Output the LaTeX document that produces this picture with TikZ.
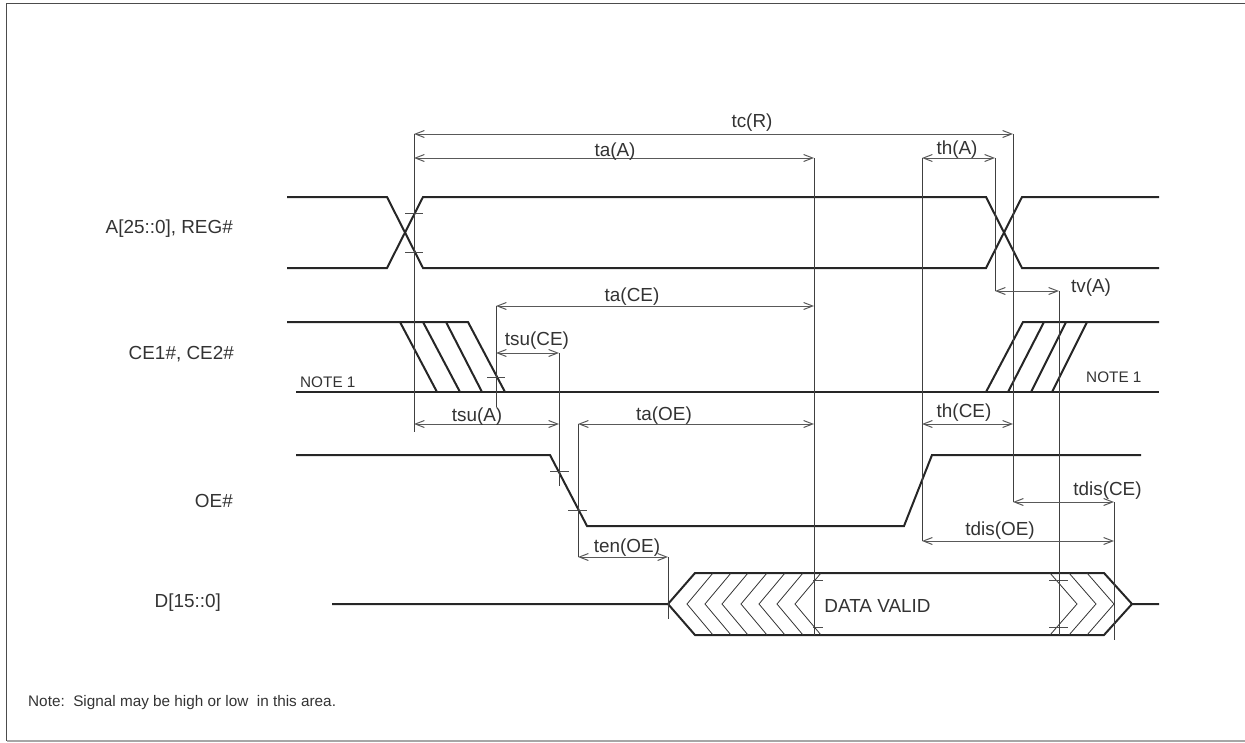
\documentclass[tikz,border=0pt]{standalone}
\usepackage{fontspec}
\setmainfont{Liberation Sans}
\usetikzlibrary{arrows.meta}

\begin{document}
\begin{tikzpicture}[
  x=1pt, y=-1pt,
  font=\fontsize{18.9}{20}\selectfont,
  txt/.style={text=black!80, inner sep=0pt},
  small/.style={txt, font=\fontsize{15.3}{18}\selectfont},
  sig/.style={line width=2pt, black!85, line join=miter},
  guide/.style={line width=1pt, black!75},
  tickm/.style={line width=0.8pt, black!70},
  hatch/.style={line width=0.8pt, black!80},
  dim/.style={line width=1pt, black!65, {Straight Barb[length=9pt,width=7pt]}-{Straight Barb[length=9pt,width=7pt]}},
]
\useasboundingbox (0,0) rectangle (1245,742);
\draw[line width=1.2pt, black!70] (1245,3.5) -- (6.5,3.5) -- (6.5,741);
\draw[line width=1.2pt, black!35] (6.5,741) -- (1245,741);

% signal names
\node[txt, anchor=east] (nameA) at (233,229) {A[25::0], REG\#};
\node[txt, anchor=east] (nameCE) at (234,354) {CE1\#, CE2\#};
\node[txt, anchor=east] (nameOE) at (233,501) {OE\#};
\node[txt, anchor=east] (nameD) at (221,603) {D[15::0]};
\node[small, anchor=west] (noteA) at (300,382) {NOTE 1};
\node[small, anchor=west] (noteB) at (1086,377) {NOTE 1};
\node[small, anchor=west] (remark) at (28,703) {Note:\ \ Signal may be high or low\ \ in this area.};
\node[txt] (valid) at (877.5,606) {DATA VALID};

% A
\draw[sig] (287,197) -- (387,197) -- (423,268) -- (986,268) -- (1022,197) -- (1159,197);
\draw[sig] (287,268) -- (387,268) -- (423,197) -- (986,197) -- (1022,268) -- (1159,268);
% CE
\draw[sig] (287,322) -- (468,322) -- (505,392);
\draw[sig] (296,392) -- (1159,392);
\draw[sig] (400,322) -- (437,392);
\draw[sig] (423,322) -- (460,392);
\draw[sig] (446,322) -- (482,392);
\draw[sig] (986,392) -- (1023,322) -- (1159,322);
\draw[sig] (1008,392) -- (1044,322);
\draw[sig] (1031,392) -- (1066,322);
\draw[sig] (1052,392) -- (1087,322);
% OE
\draw[sig] (296,455) -- (550,455) -- (587,526) -- (904,526) -- (932,455) -- (1141,455);
% D
\draw[sig] (332,604) -- (668,604) -- (695,573) -- (1104,573) -- (1132,604) -- (1159,604);
\draw[sig] (668,604) -- (695,635) -- (1104,635) -- (1132,604);
\foreach \xx in {687,705,722,741,759,777,795}
  \draw[hatch] (\xx+26,573) -- (\xx,604) -- (\xx+26,635);
\foreach \xx in {1050,1069,1087}
  \draw[hatch] (\xx,573) -- (\xx+27,604) -- (\xx,635);

% measure ticks
\draw[tickm] (405,213) -- (423,213);
\draw[tickm] (405,252) -- (423,252);
\draw[tickm] (487,377) -- (505,377);
\draw[tickm] (550,471) -- (569,471);
\draw[tickm] (568,510) -- (587,510);
\draw[tickm] (813,580) -- (823,580);
\draw[tickm] (813,627) -- (823,627);
\draw[tickm] (1049,580) -- (1068,580);
\draw[tickm] (1049,627) -- (1068,627);

% ends of the measures
\coordinate (tcL) at (414,134);   \coordinate (tcR) at (1013,134);
\coordinate (taAL) at (414,158);  \coordinate (taAR) at (814,158);
\coordinate (thAL) at (922,158);  \coordinate (thAR) at (995,158);
\coordinate (tvL) at (995,291);   \coordinate (tvR) at (1059,291);
\coordinate (taCL) at (496,306);  \coordinate (taCR) at (814,306);
\coordinate (tsCL) at (496,353);  \coordinate (tsCR) at (559,353);
\coordinate (tsAL) at (414,424);  \coordinate (tsAR) at (559,424);
\coordinate (taOL) at (578,424);  \coordinate (taOR) at (814,424);
\coordinate (thCL) at (922,424);  \coordinate (thCR) at (1013,424);
\coordinate (tdCL) at (1013,502); \coordinate (tdCR) at (1114,502);
\coordinate (tdOL) at (922,541);  \coordinate (tdOR) at (1114,541);
\coordinate (tenL) at (578,557);  \coordinate (tenR) at (668,557);
% free ends of the guides
\coordinate (endA) at (414,432);
\coordinate (endCE) at (496,407);
\coordinate (endSu) at (559,486);
\coordinate (endEn) at (668,619);
\coordinate (endV) at (814,635);
\coordinate (endTv) at (1059,635);
\coordinate (endDis) at (1114,640);

\draw[guide] (tcL) -- (endA);
\draw[guide] (taCL) -- (endCE);
\draw[guide] (tsCR) -- (endSu);
\draw[guide] (taOL) -- (tenL);
\draw[guide] (tenR) -- (endEn);
\draw[guide] (taAR) -- (endV);
\draw[guide] (thAL) -- (tdOL);
\draw[guide] (thAR) -- (tvL);
\draw[guide] (tcR) -- (tdCL);
\draw[guide] (tvR) -- (endTv);
\draw[guide] (tdCR) -- (endDis);

\draw[dim] (tcL) -- (tcR);
\draw[dim] (taAL) -- (taAR);
\draw[dim] (thAL) -- (thAR);
\draw[dim] (tvL) -- (tvR);
\draw[dim] (taCL) -- (taCR);
\draw[dim] (tsCL) -- (tsCR);
\draw[dim] (tsAL) -- (tsAR);
\draw[dim] (taOL) -- (taOR);
\draw[dim] (thCL) -- (thCR);
\draw[dim] (tdCL) -- (tdCR);
\draw[dim] (tdOL) -- (tdOR);
\draw[dim] (tenL) -- (tenR);

% measure labels
\node[txt] (lbtc) at (752,123) {tc(R)};
\node[txt] (lbtaA) at (615,152) {ta(A)};
\node[txt] (lbthA) at (957,150) {th(A)};
\node[txt] (lbtv) at (1091,288) {tv(A)};
\node[txt] (lbtaC) at (632,297) {ta(CE)};
\node[txt] (lbtsC) at (537,341) {tsu(CE)};
\node[txt] (lbtsA) at (477,417) {tsu(A)};
\node[txt] (lbtaO) at (664,416) {ta(OE)};
\node[txt] (lbthC) at (964,413) {th(CE)};
\node[txt] (lbtdC) at (1107.5,491) {tdis(CE)};
\node[txt] (lbtdO) at (1000,531) {tdis(OE)};
\node[txt] (lbten) at (627,548) {ten(OE)};
\end{tikzpicture}
\end{document}
